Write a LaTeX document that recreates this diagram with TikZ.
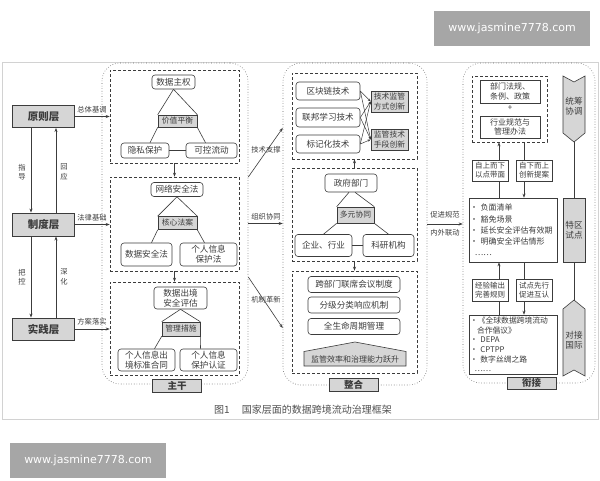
\documentclass[tikz,border=0pt]{standalone}
\usepackage{fontspec}
\setmainfont{Noto Sans CJK SC}
\newfontfamily\wmfont{DejaVu Sans}
\usetikzlibrary{arrows.meta,calc}
\definecolor{ink}{HTML}{3C3C3C}
\definecolor{fillg}{HTML}{D6D6D6}
\definecolor{wmg}{HTML}{A6A6A6}
\begin{document}
\begin{tikzpicture}[x=1pt,y=-1pt,
  every node/.style={text=ink},
  wh/.style 2 args={minimum width=#1pt,minimum height=#2pt},
  layer/.style={draw=ink,line width=0.9pt,fill=fillg,inner sep=0pt,font=\fontsize{10.5}{12}\selectfont\bfseries},
  rb/.style={draw=ink,rounded corners=3pt,fill=white,inner sep=1pt,align=center,font=\fontsize{8.6}{10}\selectfont,line width=0.6pt},
  sq/.style={draw=ink,fill=white,inner sep=1pt,align=center,font=\fontsize{8}{9.3}\selectfont,line width=0.6pt},
  gb/.style={draw=ink,fill=fillg,inner sep=1pt,align=center,font=\fontsize{7.8}{9.2}\selectfont,line width=0.6pt},
  db/.style={draw=ink,dash pattern=on 3pt off 2pt,line width=0.6pt,inner sep=0pt},
  ob/.style={draw=ink!80,dotted,rounded corners=18pt,line width=0.6pt,inner sep=0pt},
  lab/.style={font=\fontsize{7.3}{9.5}\selectfont,inner sep=0.5pt,align=center},
  arr/.style={draw=ink,line width=0.6pt,-{Stealth[length=4pt,width=3pt]}},
  sarr/.style={draw=ink,line width=0.5pt,-{Stealth[length=3pt,width=2.4pt]}},
  ln/.style={draw=ink,line width=0.6pt},
  tagbox/.style={draw=ink,fill=fillg,wh={49}{13},inner sep=0pt,font=\fontsize{9.5}{10}\selectfont\bfseries,line width=0.7pt},
  wm/.style={fill=wmg,text=white,wh={156}{35},inner sep=0pt,font=\wmfont\fontsize{11}{12}\selectfont}
]
\fill[white] (0,0) rectangle (600,480);
\useasboundingbox (0,0) rectangle (600,480);

% watermarks
\node[wm] (w1) at (512,28.5) {www.jasmine7778.com};
\node[wm] (w2) at (88,460) {www.jasmine7778.com};

% frame
\draw[gray!35,line width=0.6pt] (2,62) rectangle (598,419);

% ---------- left layers ----------
\node[layer,wh={62}{22}] (L1) at (43.5,116.5) {原则层};
\node[layer,wh={62}{23}] (L2) at (43.5,224.5) {制度层};
\node[layer,wh={62}{22}] (L3) at (43.5,329) {实践层};
\draw[arr] ([xshift=-12.5pt]L1.south) -- ([xshift=-12.5pt]L2.north);
\draw[arr] ([xshift=12.5pt]L2.north) -- ([xshift=12.5pt]L1.south);
\draw[arr] ([xshift=-12.5pt]L2.south) -- ([xshift=-12.5pt]L3.north);
\draw[arr] ([xshift=12.5pt]L3.north) -- ([xshift=12.5pt]L2.south);
\node[lab] (g1l) at (22,172) {指\\导};
\node[lab] (g2l) at (64,172) {回\\应};
\node[lab] (g3l) at (22,277) {把\\控};
\node[lab] (g4l) at (64,277) {深\\化};

% ---------- main column ----------
\node[ob,wh={146}{321}] (M) at (175,223.5) {};
\node[db,wh={129}{93}] (m1) at (174.5,116.5) {};
\node[db,wh={129}{94}] (m2) at (174.5,224) {};
\node[db,wh={129}{93}] (m3) at (174.5,328.5) {};

\node[rb,wh={43}{14}] (ds) at (173.5,82) {数据主权};
\node[gb,wh={39}{12}] (vb) at (177.5,121) {价值平衡};
\node[rb,wh={48}{15}] (ys) at (145,150.5) {隐私保护};
\node[rb,wh={51}{15}] (kk) at (211.5,150.5) {可控流动};
\draw[ln] (ds.south) -- (vb.north west);
\draw[ln] (ds.south) -- (vb.north east);
\draw[ln] (vb.south west) -- ([xshift=5pt]ys.north);
\draw[ln] (vb.south east) -- ([xshift=-6pt]kk.north);
\draw[ln] (ys.east) -- (kk.west);

\node[rb,wh={52}{14}] (ws) at (177,189.5) {网络安全法};
\node[gb,wh={39}{13}] (hx) at (177.5,223) {核心法案};
\node[rb,wh={51}{23}] (sa) at (146.5,254.5) {数据安全法};
\node[rb,wh={57}{23}] (gr) at (208.5,254.5) {个人信息\\保护法};
\draw[ln] (ws.south) -- (hx.north west);
\draw[ln] (ws.south) -- (hx.north east);
\draw[ln] (hx.south west) -- ([xshift=5pt]sa.north);
\draw[ln] (hx.south east) -- ([xshift=-4pt]gr.north);

\node[rb,wh={53}{22}] (sc) at (180.5,298) {数据出境\\安全评估};
\node[gb,wh={38}{14}] (gl) at (181,329) {管理措施};
\node[rb,wh={57}{22}] (c1) at (146.5,360) {个人信息出\\境标准合同};
\node[rb,wh={57}{22}] (c2) at (208.5,360) {个人信息\\保护认证};
\draw[ln] (sc.south) -- (gl.north west);
\draw[ln] (sc.south) -- (gl.north east);
\draw[ln] (gl.south west) -- ([xshift=8pt]c1.north);
\draw[ln] (gl.south east) -- ([xshift=-8pt]c2.north);

\draw[arr] (m1.south) -- (m2.north);
\draw[arr] (m2.south) -- (m3.north);
\node[tagbox] (zg) at (177,385.5) {主干};

% left -> main
\draw[arr] (L1.east) -- (L1.east -| m1.west);
\draw[arr] (L2.east) -- (L2.east -| m2.west);
\draw[arr] (L3.east) -- (L3.east -| m3.west);
\node[lab] (a1) at (92,109.5) {总体基调};
\node[lab] (a2) at (92,217.5) {法律基础};
\node[lab] (a3) at (92,322) {方案落实};

% ---------- middle column ----------
\node[ob,wh={144}{322}] (Z) at (355,224) {};
\node[db,wh={125}{86}] (A) at (354.5,116) {};
\node[db,wh={125}{93}] (B) at (354.5,214.5) {};
\node[db,wh={125}{102}] (C) at (354.5,322) {};

\node[rb,wh={64}{18}] (t1) at (328,91) {区块链技术};
\node[rb,wh={64}{19}] (t2) at (328,117.5) {联邦学习技术};
\node[rb,wh={64}{18}] (t3) at (328,144) {标记化技术};
\node[gb,wh={37}{21}] (q1) at (389.5,101.5) {技术监管\\方式创新};
\node[gb,wh={37}{21}] (q2) at (389.5,139.5) {监管技术\\手段创新};
\foreach \t in {t1,t2,t3}{
  \draw[sarr] (\t.east) -- (q1.west);
  \draw[sarr] (\t.east) -- (q2.west);
}

\node[rb,wh={52}{18}] (zf) at (351,183) {政府部门};
\node[gb,wh={37}{16}] (dy) at (355.5,215) {多元协同};
\node[rb,wh={57}{22}] (qy) at (323.5,245.5) {企业、行业};
\node[rb,wh={51}{22}] (ky) at (388.5,245.5) {科研机构};
\draw[ln] ([xshift=-2pt]zf.south) -- (dy.north west);
\draw[ln] ([xshift=4pt]zf.south) -- (dy.north east);
\draw[ln] (dy.south west) -- (qy.north);
\draw[ln] (dy.south east) -- (ky.north);
\draw[ln] (qy.east) -- (ky.west);

\draw[arr] (B.north) -- (A.south);
\draw[arr] (B.south) -- (C.north);

\node[rb,wh={92}{16}] (k1) at (354,284.5) {跨部门联席会议制度};
\node[rb,wh={92}{16}] (k2) at (354,305) {分级分类响应机制};
\node[rb,wh={92}{16}] (k3) at (354,326.5) {全生命周期管理};
\draw[ln,fill=fillg] (304,366) -- (304,351.5) -- (355,342) -- (406,351.5) -- (406,366) -- cycle;
\node[lab,font=\fontsize{8}{9}\selectfont] (up) at (355,359) {监管效率和治理能力跃升};
\node[tagbox] (zh) at (353.5,385) {整合};

% main -> middle
\draw[arr] ($(M.east)+(0,-46.5)$) -- ($(Z.west)+(0,-96)$);
\draw[arr] (M.east) -- (M.east -| Z.west);
\draw[arr] ($(M.east)+(0,53.5)$) -- ($(Z.west)+(0,104)$);
\node[lab] (b1l) at (266,150) {技术支撑};
\node[lab] (b2l) at (266,217) {组织协同};
\node[lab] (b3l) at (266,300) {机制革新};

% ---------- right column ----------
\node[ob,wh={132}{320}] (R) at (529,223) {};
\node[db,wh={75}{66}] (rd) at (509.5,109) {};
\node[sq,wh={60}{23}] (r1) at (510,91.5) {部门法规、\\条例、政策};
\node[lab,font=\fontsize{8}{9}\selectfont] (pl) at (510,108.5) {+};
\node[sq,wh={60}{22}] (r2) at (510,127) {行业规范与\\管理办法};

\node[sq,wh={88}{64},align=left,text width=86pt,font=\fontsize{8}{11.3}\selectfont] (bx1) at (513,230)
  {· 负面清单\\· 豁免场景\\· 延长安全评估有效期\\· 明确安全评估情形\\\hspace*{0.6em}……};
\node[sq,wh={88}{59},align=left,text width=86pt,font=\fontsize{7.8}{9.6}\selectfont] (bx2) at (513,344.5)
  {·《全球数据跨境流动\\\hspace*{0.9em}合作倡议》\\· DEPA\\· CPTPP\\· 数字丝绸之路\\\hspace*{0.6em}……};

\draw[arr] ([xshift=-14pt]bx1.north) -- ([xshift=-14pt]bx1.north |- rd.south);
\draw[arr] ([xshift=11pt]bx1.north |- rd.south) -- ([xshift=11pt]bx1.north);
\draw[arr] ([xshift=-14pt]bx2.north) -- ([xshift=-14pt]bx1.south);
\draw[arr] ([xshift=11pt]bx1.south) -- ([xshift=11pt]bx2.north);

\node[sq,wh={36}{21},font=\fontsize{7.5}{8.8}\selectfont] (s1) at (490,170.5) {自上而下\\以点带面};
\node[sq,wh={36}{21},font=\fontsize{7.5}{8.8}\selectfont] (s2) at (534,170.5) {自下而上\\创新提案};
\node[sq,wh={36}{22},font=\fontsize{7.5}{8.8}\selectfont] (s3) at (490,290) {经验输出\\完善规则};
\node[sq,wh={36}{22},font=\fontsize{7.5}{8.8}\selectfont] (s4) at (534,290) {试点先行\\促进互认};

% chevrons
\draw[ln,fill=fillg] (563,76) -- (574,82) -- (585,76) -- (585,133) -- (574,142) -- (563,133) -- cycle;
\node[lab,font=\fontsize{8.6}{10.5}\selectfont] (tc) at (574,106) {统筹\\协调};
\node[gb,wh={22}{64},font=\fontsize{8.6}{10.5}\selectfont] (tq) at (574,230) {特区\\试点};
\draw[ln,fill=fillg] (563,309) -- (574,300) -- (585,309) -- (585,376) -- (574,370) -- (563,376) -- cycle;
\node[lab,font=\fontsize{8.6}{10.5}\selectfont] (dj) at (574,340) {对接\\国际};
\coordinate (tcb) at (574,142);
\coordinate (djt) at (574,300);
\draw[ln] (tcb) -- (tq.north);
\draw[ln] (tq.south) -- (djt);

\node[tagbox,wh={49}{12}] (xj) at (531.5,383) {衔接};

% middle -> right
\draw[arr] (Z.east) -- (Z.east -| R.west);
\node[lab] (c1l) at (445,215) {促进规范};
\node[lab] (c2l) at (445,233) {内外联动};

% caption
\node[font=\fontsize{10}{11}\selectfont,text=ink!90] (cap) at (303,410) {图1\hspace{1.2em}国家层面的数据跨境流动治理框架};
\end{tikzpicture}
\end{document}
